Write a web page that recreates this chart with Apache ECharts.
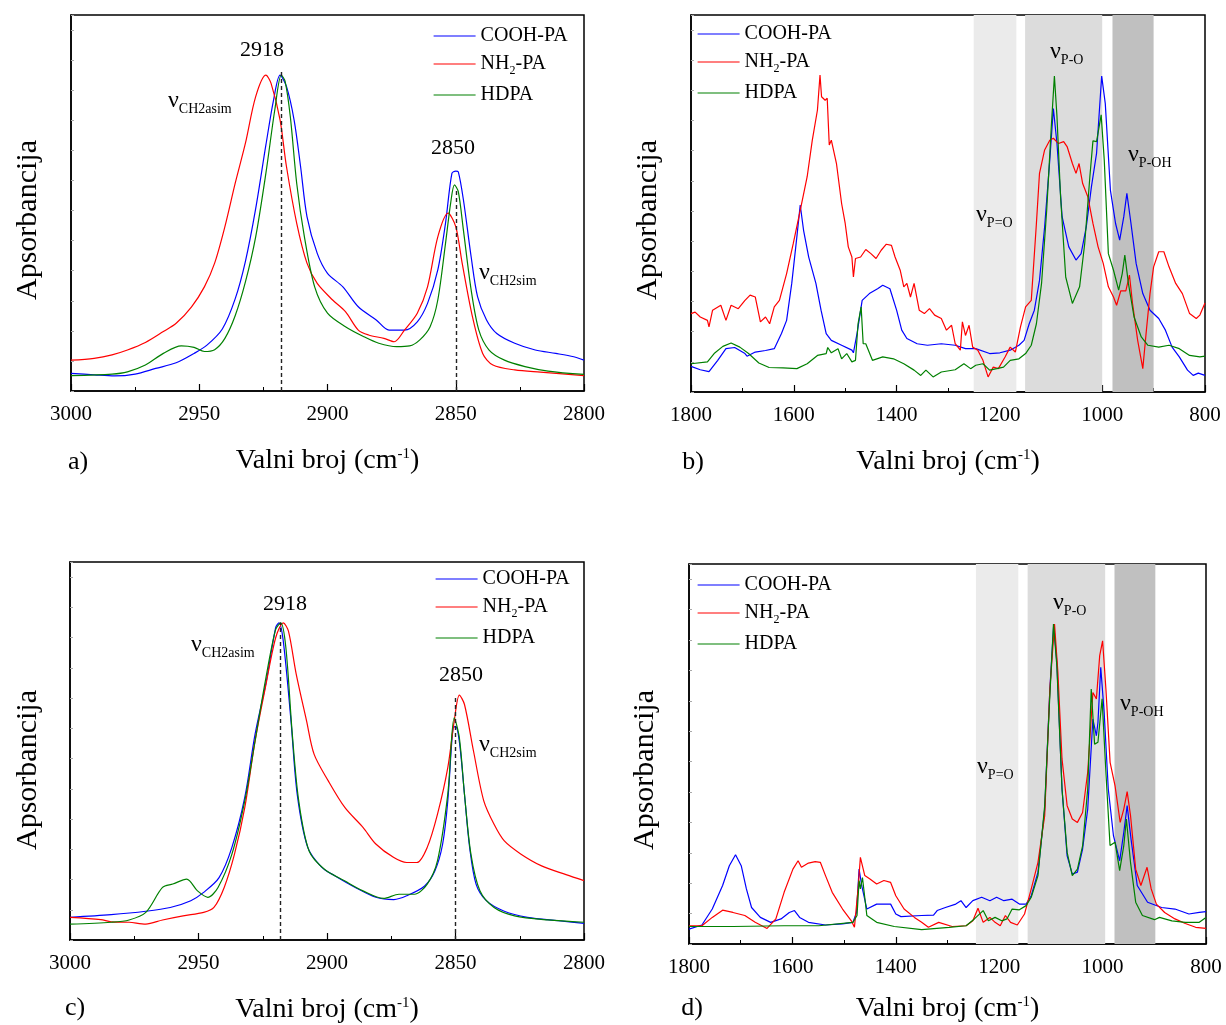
<!DOCTYPE html>
<html>
<head>
<meta charset="utf-8">
<script src="https://cdn.jsdelivr.net/npm/echarts@6/dist/echarts.min.js"></script>
<style>html,body{margin:0;padding:0;background:#fff}#c{width:1226px;height:1025px}</style>
</head>
<body>
<div id="c"></div>
<script>
// ---------- DATA (wavenumber cm-1, relative absorbance 0-100) ----------
const seriesNames = ['COOH-PA', 'NH2-PA', 'HDPA'];
const seriesColors = ['#0000ff', '#ff0000', '#008000'];
const xTicksCH = [3000, 2950, 2900, 2850, 2800];
const xTicksFP = [1800, 1600, 1400, 1200, 1000, 800];

// panel a
const aCOOH = [[3000,4.7],[2991,4.3],[2983,4.0],[2975,4.5],[2967,6.0],[2959,7.5],[2952,10.0],[2947,12.2],[2941,16.5],[2936,24.5],[2932,34.5],[2928,48.5],[2924,65.5],[2921,77.5],[2918.5,84.0],[2916,81],[2913,72],[2910.5,59.7],[2908,46.4],[2904,36.6],[2900,31.3],[2894,27.7],[2888,22.4],[2881,18.9],[2876,16.2],[2870,16.2],[2865,18.4],[2861,23.3],[2857,32.2],[2854,44.6],[2851.5,57.9],[2850,58.5],[2849,58.3],[2847,50.8],[2844,35.7],[2841.5,25.1],[2838,18.9],[2834,15.3],[2827,12.7],[2819,10.9],[2811,10.0],[2804,9.1],[2800,8.2]];
const aNH2 = [[3000,8.2],[2991,8.7],[2984,9.6],[2978,10.9],[2971,12.9],[2964,15.8],[2959,18.0],[2953,22.4],[2948,27.7],[2944,34.0],[2940,43.7],[2936,55.2],[2932,65.9],[2928,78.3],[2924,84.0],[2922,81.8],[2918.5,72.1],[2916,59.7],[2912,44.6],[2908,34.0],[2904,28.6],[2898,24.2],[2893,21.1],[2888,16.2],[2884,14.9],[2878,14.0],[2874,13.1],[2870,16.2],[2865,20.7],[2861,27.7],[2857,41.0],[2853,47.3],[2850,43.7],[2847.5,34.0],[2843.5,19.8],[2839.5,10.0],[2835.5,6.9],[2827,5.6],[2817,5.0],[2800,4.1]];
const aHDPA = [[3000,4.1],[2984,4.5],[2978,5.1],[2971,6.9],[2964,10.0],[2957,12.0],[2952,11.6],[2948,10.5],[2944,11.0],[2940,14.0],[2936,20.0],[2932,29.0],[2928,41.0],[2924,58.0],[2920.5,75.0],[2918,84.0],[2916.5,82.3],[2914.5,73.0],[2912,55.2],[2909,41.0],[2905,27.7],[2900,20.7],[2893,17.1],[2886,14.5],[2880,12.7],[2873,11.8],[2868,12.0],[2864,13.6],[2860,17.1],[2857,24.2],[2854,39.2],[2852,49.9],[2850.5,54.8],[2849,53.0],[2847,42.7],[2844,26.9],[2841,16.2],[2837,10.9],[2831,8.2],[2823,6.5],[2814,5.3],[2800,4.4]];

// panel b
const bCOOH = [[1800,6.8],[1782,5.9],[1765,5.4],[1748,8.4],[1732,11.5],[1715,11.8],[1695,10.2],[1691,9.5],[1675,10.6],[1655,11.0],[1638,11.5],[1624,15.5],[1614,19.0],[1604,28.8],[1594,41.2],[1587.5,49.6],[1581,42.9],[1571,35.8],[1557,28.8],[1547,21.7],[1537,15.5],[1527,13.7],[1507,12.4],[1487,11.1],[1484,10.4],[1477,15.5],[1467,24.3],[1453,26.1],[1437,27.4],[1427,28.3],[1413,27.4],[1400,21.7],[1390,16.4],[1380,14.2],[1360,12.8],[1340,12.4],[1313,12.8],[1286,12.4],[1266,11.5],[1246,11.5],[1219,10.2],[1199,10.4],[1179,11.1],[1162,12.4],[1152,13.7],[1142,18.1],[1132,21.7],[1122,29.6],[1112,43.8],[1102,61.5],[1095,75.2],[1088,65.9],[1078,46.5],[1065,38.5],[1051,35.0],[1041,36.7],[1031,43.8],[1021,54.4],[1011,63.3],[1001,83.8],[994,76.5],[984,53.5],[974,44.7],[966,40.3],[958,46.5],[952,52.7],[944,44.7],[934,34.1],[921,26.1],[907,21.7],[890,19.5],[877,16.4],[864,11.9],[850,9.3],[834,5.8],[823,4.4],[813,5.0],[800,4.4]];
const bNH2 = [[1800,20.8],[1792,21.2],[1782,19.9],[1768,19.0],[1765,17.3],[1758,21.7],[1742,23.0],[1732,19.0],[1722,23.0],[1708,22.1],[1695,24.3],[1685,25.7],[1675,25.2],[1665,18.6],[1655,19.9],[1647,18.1],[1638,22.6],[1628,24.3],[1614,31.4],[1601,39.4],[1587.5,48.2],[1574,57.1],[1564,66.8],[1554,74.8],[1549,84.1],[1546,78.3],[1539,77.4],[1535,77.9],[1531,65.5],[1527,66.8],[1517,60.6],[1507,50.0],[1500,44.7],[1494,38.5],[1487,35.8],[1484,30.5],[1480,35.4],[1470,35.8],[1460,37.8],[1450,36.7],[1440,35.4],[1430,37.6],[1420,39.2],[1410,38.9],[1403,35.8],[1393,32.3],[1386,27.9],[1380,28.8],[1373,25.2],[1366,28.8],[1356,21.7],[1346,20.8],[1336,22.1],[1326,20.4],[1313,19.5],[1303,16.4],[1293,17.7],[1286,12.8],[1276,11.1],[1272,18.6],[1266,15.0],[1259,17.7],[1252,11.9],[1242,11.1],[1232,8.4],[1222,4.0],[1212,6.6],[1202,6.2],[1189,9.3],[1179,11.9],[1169,10.6],[1159,17.3],[1149,22.6],[1138,24.3],[1128,44.7],[1122,58.0],[1112,64.2],[1102,66.8],[1095,67.3],[1085,65.9],[1075,66.4],[1068,65.0],[1058,60.6],[1051,58.0],[1045,60.6],[1038,55.3],[1028,51.8],[1018,44.7],[1008,38.5],[998,34.1],[988,27.9],[978,25.2],[972,23.0],[964,26.8],[954,26.8],[947,31.0],[941,23.5],[931,13.7],[921,6.2],[914,16.4],[907,26.1],[900,33.2],[890,37.2],[880,37.2],[870,33.2],[857,28.8],[844,26.1],[830,20.8],[817,19.5],[810,20.4],[800,23.6]];
const bHDPA = [[1800,7.5],[1768,8.0],[1755,10.2],[1738,12.1],[1722,13.0],[1705,11.9],[1688,10.2],[1668,7.7],[1648,6.5],[1621,6.4],[1594,6.2],[1574,7.5],[1554,9.7],[1537,10.2],[1534,11.8],[1527,10.4],[1514,11.5],[1507,8.8],[1497,10.2],[1487,8.0],[1480,8.4],[1475,18.1],[1469,22.6],[1465,12.8],[1460,12.8],[1447,8.4],[1427,9.3],[1406,8.8],[1386,7.5],[1366,5.8],[1353,4.4],[1343,5.8],[1329,4.0],[1313,5.3],[1286,5.9],[1269,7.5],[1256,6.2],[1246,7.1],[1232,7.5],[1219,5.8],[1205,6.2],[1192,6.6],[1179,8.4],[1162,8.8],[1149,10.2],[1138,12.4],[1128,18.1],[1118,28.8],[1108,48.2],[1099,70.4],[1093,83.8],[1088,73.1],[1081,51.8],[1071,30.5],[1058,23.5],[1044,27.9],[1034,39.4],[1024,57.1],[1018,66.6],[1011,66.4],[1002,73.5],[996,61.5],[988,36.7],[978,32.3],[968,27.0],[961,31.4],[956,36.3],[949,28.8],[938,19.9],[924,14.6],[911,12.4],[890,11.9],[870,12.4],[850,11.5],[830,9.7],[810,9.3],[800,9.5]];

// panel c
const cCOOH = [[3000,6.0],[2984,6.7],[2970.5,7.6],[2961,8.6],[2953,10.4],[2948,12.6],[2942,16.5],[2937,24.5],[2932,37.7],[2928,54.4],[2923.6,68.5],[2920,82.6],[2918.7,83.9],[2917,79],[2914,57.9],[2911.6,38.6],[2907.5,24.5],[2902,19.2],[2897,17.0],[2889,13.9],[2881,11.3],[2874,10.7],[2869,11.7],[2862,14.3],[2858,18.3],[2855,25.4],[2853,36.8],[2851,56.0],[2850,56.5],[2848.5,52.5],[2846.5,38.5],[2844.5,24.5],[2842,14.8],[2838,10.4],[2831,7.6],[2822,6.0],[2810,5.1],[2800,4.4]];
const cNH2 = [[3000,6.0],[2988,5.4],[2984,4.8],[2977,4.7],[2970.5,4.2],[2964,5.3],[2956,6.4],[2948,7.3],[2944,8.6],[2940,13.9],[2936,22.7],[2932,35.0],[2928,52.6],[2924,66.7],[2920,79.9],[2917,83.9],[2915,81.7],[2912,70.4],[2908,58.1],[2905,49.1],[2899.5,42.1],[2893,35.0],[2886,29.8],[2881,25.4],[2874,21.8],[2869,20.5],[2865,20.5],[2861,24.5],[2857,33.3],[2853,45.6],[2850.5,57.9],[2848.5,64.8],[2846.5,62.3],[2843,50.0],[2839,36.8],[2835,30.6],[2831,26.2],[2824.5,22.7],[2816.5,19.6],[2807,17.3],[2800,15.7]];
const cHDPA = [[3000,4.2],[2984,4.7],[2977,5.3],[2970.5,7.3],[2964,13.9],[2960,14.8],[2954.6,16.1],[2950.4,13.0],[2946.4,11.3],[2942.4,13.9],[2937,22.7],[2932,36.8],[2928,52.6],[2924,68.5],[2920,82.1],[2918,83.9],[2916,77.3],[2913.5,54.4],[2911,36.8],[2907,23.6],[2901,18.7],[2893,15.6],[2886,13.0],[2878,11.0],[2872,12.1],[2866,12.1],[2861,14.8],[2857,21],[2853,38.6],[2850.5,58.8],[2848.5,53.5],[2846.5,38.5],[2844,22.7],[2840.5,13.0],[2835,8.6],[2827,6.4],[2814,5.3],[2800,4.7]];

// panel d
const dCOOH = [[1800,3.9],[1775,5.0],[1755,9.2],[1735,15.4],[1722,20.6],[1710,23.5],[1699,20.6],[1689,14.5],[1679,9.6],[1662,7.0],[1642,5.7],[1622,6.6],[1606,8.3],[1596,8.8],[1586,7.0],[1569,5.7],[1536,5.0],[1503,5.3],[1483,5.7],[1476,8.3],[1471,19.7],[1466,15.4],[1456,9.2],[1437,10.5],[1410,10.5],[1400,7.9],[1390,7.2],[1350,7.5],[1327,7.6],[1320,8.8],[1304,9.6],[1284,10.5],[1274,11.4],[1264,9.6],[1251,11.4],[1234,12.3],[1218,11.4],[1205,12.3],[1191,11.4],[1175,11.8],[1161,10.5],[1148,10.5],[1138,12.7],[1125,18.9],[1112,35.5],[1102,67.1],[1094.5,84.2],[1088.5,74.1],[1078.5,40.8],[1068.6,23.2],[1058.6,18.4],[1048.7,18.9],[1038.7,25.0],[1028.8,35.5],[1018.8,59.2],[1012,54.8],[1009,58.3],[1003.6,72.8],[997,61.0],[989,40.8],[979,28.5],[967,21.9],[959,29.4],[952.5,36.4],[945,27.6],[933,15.4],[913,11.0],[886,9.6],[860,9.2],[833,7.9],[813,8.3],[800,8.5]];
const dNH2 = [[1800,4.8],[1775,4.8],[1755,7.0],[1735,8.9],[1715,8.3],[1692,7.5],[1672,5.7],[1649,4.1],[1632,6.6],[1616,13.6],[1599,19.7],[1589,21.9],[1582.5,20.2],[1569,21.3],[1556,21.7],[1546,21.5],[1536,18.0],[1523,13.6],[1503,9.2],[1486,6.1],[1480,4.4],[1473,14.5],[1468.5,22.8],[1460,18.0],[1450,17.1],[1437,15.8],[1423,16.7],[1410,16.2],[1400,12.7],[1384,9.2],[1364,7.0],[1350,5.7],[1337,4.4],[1317,5.7],[1291,4.6],[1264,4.8],[1251,6.1],[1241,9.4],[1231,5.7],[1218,7.0],[1208,5.7],[1198,4.8],[1188,7.5],[1178,5.7],[1165,5.0],[1151,7.9],[1138,14.5],[1125,21.5],[1112,33.8],[1102,67.1],[1093,84.2],[1086.5,71.5],[1078.5,48.7],[1068.6,36.4],[1058.6,32.9],[1048.7,32.0],[1038.7,34.6],[1028.8,45.2],[1018.8,66.2],[1012,64.5],[1005.6,75.9],[1000,79.8],[993.6,67.1],[985.5,47.8],[976,41.7],[966,32.0],[959,35.5],[952.5,40.1],[946,33.8],[936,19.7],[926,15.4],[914,20.2],[906,14.5],[896,10.5],[880,8.3],[860,6.6],[840,5.4],[820,4.4],[800,4.1]];
const dHDPA = [[1800,4.6],[1715,4.6],[1616,4.8],[1549,4.8],[1483,5.7],[1475,7.5],[1471,16.7],[1468.5,14.5],[1464.5,17.5],[1456,7.5],[1437,5.7],[1403,4.6],[1350,3.8],[1297,4.4],[1264,4.8],[1248,6.6],[1231,8.8],[1221,6.1],[1208,7.0],[1195,6.1],[1185,6.6],[1175,9.2],[1161,9.0],[1148,10.1],[1138,12.3],[1125,18.0],[1112,36.4],[1103,62.7],[1095,84.2],[1088.5,73.2],[1078.5,40.8],[1068.6,24.1],[1058.6,18.0],[1048.7,19.7],[1038.7,25.8],[1028.8,40.8],[1022,67.1],[1015.5,52.6],[1009,53.1],[1001,64.5],[993.6,45.2],[985.6,25.9],[976,26.8],[967,19.3],[959,25.9],[954,32.9],[946,21.5],[936,11.0],[923,7.5],[899.6,6.4],[890,7.0],[866,6.1],[840,5.7],[813,5.7],[800,7.0]];

// shaded bands (cm-1) and dashed peak markers
const bandsB = [[1250,1167,'#ebebeb'],[1150,1000,'#dcdcdc'],[980,900,'#c0c0c0']];
const bandsD = [[1245,1163,'#ebebeb'],[1145,995,'#dcdcdc'],[977,898,'#c0c0c0']];
const peaksA = [[2918,85],[2850,54]];
const peaksC = [[2918,84],[2850,64.5]];

// ---------- CHART ----------
const FONT = 'Liberation Serif';
const grids = [
  {left:71, top:15, width:513, height:376},
  {left:691, top:15, width:514, height:377},
  {left:70, top:562, width:514, height:378},
  {left:689, top:564, width:517, height:380}
];
const panelData = [[aCOOH,aNH2,aHDPA],[bCOOH,bNH2,bHDPA],[cCOOH,cNH2,cHDPA],[dCOOH,dNH2,dHDPA]];
const ranges = [[2800,3000,50],[800,1800,200],[2800,3000,50],[800,1800,200]];

const xAxes = grids.map((g,i)=>({
  gridIndex:i, type:'value', inverse:true, min:ranges[i][0], max:ranges[i][1], interval:ranges[i][2],
  axisLine:{onZero:false, lineStyle:{color:'#000', width:1.5}},
  axisTick:{inside:true, length:7, lineStyle:{color:'#000', width:1.2}},
  minorTick:{show:true, splitNumber:2, length:4, lineStyle:{color:'#000', width:1}},
  axisLabel:{color:'#000', fontFamily:FONT, fontSize:21, margin:13, formatter:v=>String(v)},
  splitLine:{show:false},
  name:'Valni broj (cm{sup|-1})', nameLocation:'middle', nameGap:(i===3?51:56),
  nameTextStyle:{color:'#000', fontFamily:FONT, fontSize:28, rich:{sup:{fontSize:15, fontFamily:FONT, color:'#000', verticalAlign:'top', lineHeight:14}}}
}));
const yAxes = grids.map((g,i)=>({
  gridIndex:i, type:'value', min:0, max:100, interval:8,
  axisLine:{lineStyle:{color:'#000', width:1.5}},
  axisTick:{inside:true, length:3, lineStyle:{color:'#aaa', width:1}},
  axisLabel:{show:false}, splitLine:{show:false}
}));

const series = [];
// bands
[[1,bandsB],[3,bandsD]].forEach(([gi,bands])=>{
  series.push({type:'line', xAxisIndex:gi, yAxisIndex:gi, data:[], silent:true, z:1,
    markArea:{silent:true, data:bands.map(b=>[{xAxis:b[0], itemStyle:{color:b[2]}},{xAxis:b[1]}])}});
});
// dashed markers
[[0,peaksA],[2,peaksC]].forEach(([gi,pk])=>{
  series.push({type:'line', xAxisIndex:gi, yAxisIndex:gi, data:[], silent:true, z:3,
    markLine:{silent:true, symbol:'none', label:{show:false}, lineStyle:{type:[4,3], color:'#222', width:1.4},
      data:pk.map(p=>[{coord:[p[0],0]},{coord:[p[0],p[1]]}])}});
});
panelData.forEach((arr,gi)=>{
  arr.forEach((d,k)=>{
    series.push({name:seriesNames[k], type:'line', xAxisIndex:gi, yAxisIndex:gi, data:d,
      showSymbol:false, symbol:'none', smooth:(gi%2===0?0.3:false),
      lineStyle:{color:seriesColors[k], width:1.2}, itemStyle:{color:seriesColors[k]}, z:4});
  });
});

const legendPos = [[433,26],[697,24],[435,569],[697,575]];
const legends = legendPos.map(p=>({
  left:p[0], top:p[1], orient:'vertical', itemGap:8, itemWidth:42, itemHeight:14, padding:0,
  data:seriesNames, selectedMode:false,
  itemStyle:{opacity:0}, lineStyle:{width:1.2},
  formatter:n=> n==='NH2-PA' ? 'NH{sub|2}-PA' : n,
  textStyle:{color:'#000', fontFamily:FONT, fontSize:20,
    rich:{sub:{fontSize:12, fontFamily:FONT, color:'#000', verticalAlign:'bottom', lineHeight:26}}}
}));

function nu(x,y,sub,subSize){
  return {type:'text', x:x, y:y, z:100, style:{text:'{n|ν}{s|'+sub+'}',
    rich:{n:{fontSize:24, fontFamily:FONT, fill:'#000', lineHeight:30},
          s:{fontSize:subSize||14, fontFamily:FONT, fill:'#000', verticalAlign:'bottom', lineHeight:16}}}};
}
function txt(x,y,t,size){
  return {type:'text', x:x, y:y, z:100, style:{text:t, fontSize:size, fontFamily:FONT, fill:'#000', align:'center', verticalAlign:'middle'}};
}
function ytitle(x,y){
  return {type:'text', x:x, y:y, rotation:Math.PI/2, z:100, style:{text:'Apsorbancija', fontSize:30, fontFamily:FONT, fill:'#000', align:'center', verticalAlign:'middle'}};
}
const graphics = [
  txt(262,50,'2918',22), txt(453,148,'2850',22),
  nu(168,86,'CH2asim'), nu(479,258,'CH2sim'),
  nu(976,200,'P=O'), nu(1050,37,'P-O'), nu(1128,140,'P-OH'),
  txt(285,604,'2918',22), txt(461,675,'2850',22),
  nu(191,630,'CH2asim'), nu(479,730,'CH2sim'),
  nu(1053,588,'P-O'), nu(1120,689,'P-OH'), nu(977,752,'P=O'),
  txt(78,462,'a)',26), txt(693,462,'b)',26), txt(75,1008,'c)',26), txt(692,1008,'d)',26),
  ytitle(28,220), ytitle(648,220), ytitle(28,770), ytitle(645,770)
];

const chart = echarts.init(document.getElementById('c'), null, {renderer:'canvas'});
chart.setOption({
  backgroundColor:'#fff', animation:false,
  grid:grids.map(g=>Object.assign({show:true, borderColor:'#000', borderWidth:1.5, backgroundColor:'transparent'}, g)),
  xAxis:xAxes, yAxis:yAxes, series:series, legend:legends, graphic:graphics
});
</script>
</body>
</html>
